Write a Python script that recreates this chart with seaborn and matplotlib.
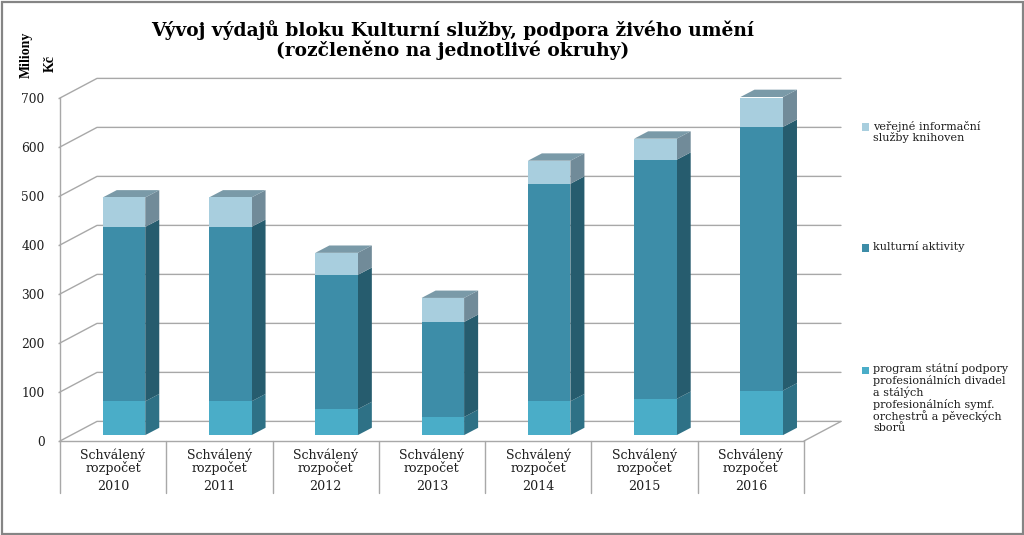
import matplotlib
matplotlib.use("Agg")
import matplotlib.pyplot as plt
from matplotlib.patches import Rectangle
import pandas as pd
import seaborn as sns

years = ["2010", "2011", "2012", "2013", "2014", "2015", "2016"]
program = [69, 69, 53, 37, 69, 74, 91]
kultura = [356, 356, 274, 194, 444, 488, 538]
knihovny = [60, 60, 45, 49, 47, 43, 61]
y_ticks = [0, 100, 200, 300, 400, 500, 600, 700]
category_label = "Schválený\nrozpočet"
title_text = "Vývoj výdajů bloku Kulturní služby, podpora živého umění\n(rozčleněno na jednotlivé okruhy)"
legend_program = "program státní podpory\nprofesionálních divadel\na stálých\nprofesionálních symf.\norchestrů a pěveckých\nsborů"
legend_kultura = "kulturní aktivity"
legend_knihovny = "veřejné informační\nslužby knihoven"

front = {"program": "#4AADC8", "kultura": "#3D8DA8", "knihovny": "#A8CEDE"}
side = {"program": "#2E7186", "kultura": "#265C6E", "knihovny": "#718B99"}
top_face = "#7A9AA8"
grid_c = "#A8A8A8"
text_c = "#1E1E1E"

W, H = 1024, 535
sns.set_theme(style="white")
plt.rcParams["font.family"] = ["DejaVu Serif"]

fig = plt.figure(figsize=(W / 100, H / 100), dpi=100, facecolor="white")
ax = fig.add_axes([60 / W, (H - 441) / H, 744 / W, 343 / H])
ax.patch.set_alpha(0)

df = pd.DataFrame({"year": years, "program": program, "kultura": kultura, "knihovny": knihovny})
base = 12.0          # bars stand slightly in front of the floor edge
bar_w = 0.40
depth_x, depth_y = 0.132, 15.0

bottom = [base] * len(years)
for name in ["program", "kultura", "knihovny"]:
    sns.barplot(data=df, x="year", y=name, bottom=bottom, width=bar_w, color=front[name],
                saturation=1, linewidth=0, ax=ax, zorder=4)
    for i, (b, v) in enumerate(zip(bottom, df[name])):
        r = i + bar_w / 2
        ax.fill([r, r + depth_x, r + depth_x, r],
                [b, b + depth_y, b + v + depth_y, b + v],
                color=side[name], lw=0, zorder=3, clip_on=False)
    bottom = [b + v for b, v in zip(bottom, df[name])]

for i, t in enumerate(bottom):
    l, r = i - bar_w / 2, i + bar_w / 2
    ax.fill([l, r, r + depth_x, l + depth_x], [t, t, t + depth_y, t + depth_y],
            color=top_face, lw=0, zorder=3, clip_on=False)

x_left, x_right = -0.602, 6.398
back_x = 0.348
back_y = 40.0
ax.set_xlim(x_left, x_right)
ax.set_ylim(0, 700)

for v in y_ticks:
    ax.plot([x_left, x_left + back_x, x_right + back_x],
            [v, v + back_y, v + back_y], color=grid_c, lw=1.0, zorder=1, clip_on=False)
ax.plot([x_right, x_right + back_x], [0, back_y], color=grid_c, lw=1.0, zorder=1, clip_on=False)

# category axis: tick labels plus separators below the floor
shift = 0.103
ax.set_xticks([i - shift for i in range(len(years))])
ax.set_xticklabels([category_label] * len(years), fontsize=9.1, color=text_c, linespacing=0.92)
ax.tick_params(axis="x", length=0, pad=5.5)
for k in range(len(years) + 1):
    ax.plot([x_left + k, x_left + k], [0, -106], color=grid_c, lw=1.0, clip_on=False, zorder=1)
for i, y in enumerate(years):
    ax.text(i - shift, -92, y, ha="center", va="center", fontsize=9.1, color=text_c)

ax.set_yticks(y_ticks)
ax.set_yticklabels([str(v) for v in y_ticks], fontsize=8.8, color=text_c)
ax.tick_params(axis="y", length=1.5, width=1.0, color=grid_c, pad=9.5, left=True)
ax.set_xlabel("")
ax.set_ylabel("")
for s in ["top", "right"]:
    ax.spines[s].set_visible(False)
for s in ["left", "bottom"]:
    ax.spines[s].set_color(grid_c)
    ax.spines[s].set_linewidth(1.0)

def fx(px):
    return px / W

def fy(py):
    return 1 - py / H

fig.text(fx(453), fy(40), title_text, ha="center", va="center", fontsize=13.45,
         fontweight="bold", color="black", linespacing=1.08)

narrow = ["Liberation Sans Narrow", "Liberation Serif"]
fig.text(fx(26), fy(55), "Miliony", rotation=90, ha="center", va="center",
         fontsize=10, fontweight="bold", family=narrow, color="black")
fig.text(fx(50), fy(64), "Kč", rotation=90, ha="center", va="center",
         fontsize=10, fontweight="bold", family=narrow, color="black")

def key(py, color, label):
    fig.patches.append(Rectangle((fx(862), fy(py + 3.5)), 7 / W, 7 / H, transform=fig.transFigure,
                                 facecolor=color, edgecolor="none"))
    fig.text(fx(873), fy(py - 6.5), label, ha="left", va="top", fontsize=8.1,
             color=text_c, linespacing=1.06)

key(127, front["knihovny"], legend_knihovny)
key(248, front["kultura"], legend_kultura)
key(370, front["program"], legend_program)

fig.patches.append(Rectangle((1.5 / W, 1 / H), (W - 3) / W, (H - 2.5) / H, transform=fig.transFigure,
                             facecolor="none", edgecolor="#858585", linewidth=1.6))

fig.savefig("out.png", dpi=100, facecolor="white")
